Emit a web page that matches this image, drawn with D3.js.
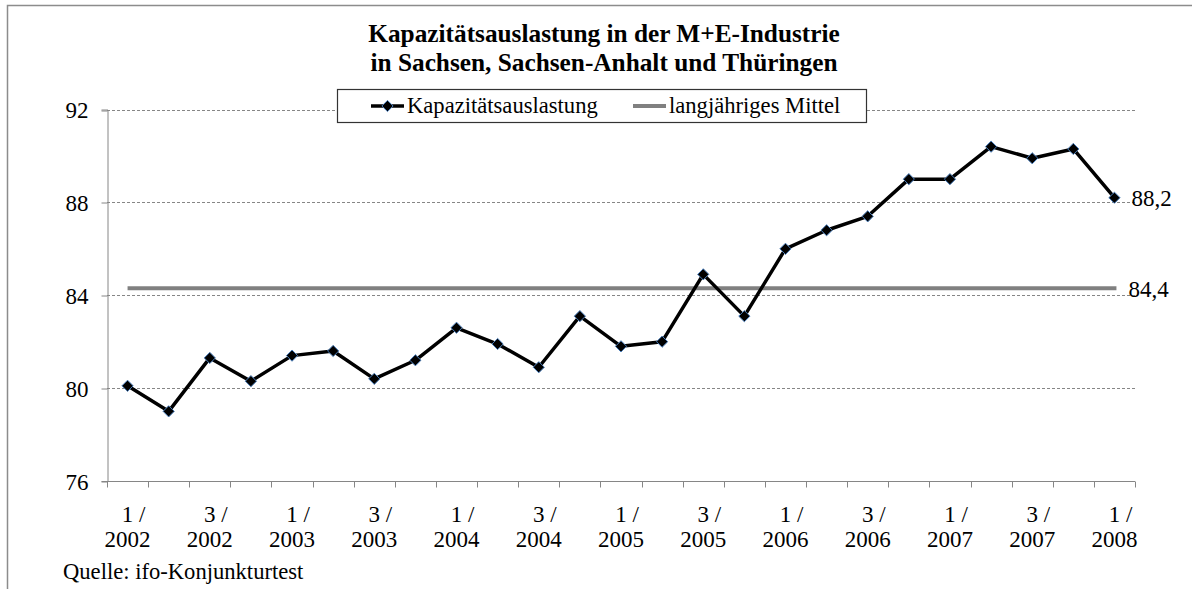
<!DOCTYPE html>
<html>
<head>
<meta charset="utf-8">
<script src="https://cdn.jsdelivr.net/npm/d3@7"></script>
<style>
    body { margin: 0; background: #fff; }
    svg { display: block; font-family: 'Liberation Serif', 'Times New Roman', serif; }
</style>
</head>
<body>
<script>
// quarters shown on the x axis (quarter / year)
const periods = [
    '1/2002', '2/2002', '3/2002', '4/2002',
    '1/2003', '2/2003', '3/2003', '4/2003',
    '1/2004', '2/2004', '3/2004', '4/2004',
    '1/2005', '2/2005', '3/2005', '4/2005',
    '1/2006', '2/2006', '3/2006', '4/2006',
    '1/2007', '2/2007', '3/2007', '4/2007',
    '1/2008',
]
const auslastung = [
    80.1, 79.0, 81.3, 80.3,
    81.4, 81.6, 80.4, 81.2,
    82.6, 81.9, 80.9, 83.1,
    81.8, 82.0, 84.9, 83.1,
    86.0, 86.8, 87.4, 89.0,
    89.0, 90.4, 89.9, 90.3,
    88.2,
]
const mittel = 84.3
const mittelLabel = '84,4'
const yTicks = [76, 80, 84, 88, 92]
const titleLines = [
    'Kapazitätsauslastung in der M+E-Industrie',
    'in Sachsen, Sachsen-Anhalt und Thüringen',
]
const seriesNames = ['Kapazitätsauslastung', 'langjähriges Mittel']
const source = 'Quelle: ifo-Konjunkturtest'

const width = 1192
const height = 589
const margin = { top: 109.5, right: 57, bottom: 108, left: 107 }
const axisColor = '#868686'
const fontSize = 23

const svg = d3.select('body').append('svg')
    .attr('width', width)
    .attr('height', height)
    .attr('viewBox', [0, 0, width, height])

// outer chart frame (only top and left edges fall inside the picture)
svg.append('rect')
    .attr('x', 7.5)
    .attr('y', 5.5)
    .attr('width', width + 20)
    .attr('height', height + 20)
    .attr('fill', 'none')
    .attr('stroke', '#8c8c8c')
    .attr('stroke-width', 1.5)

const x = d3.scaleBand()
    .domain(periods)
    .range([margin.left, width - margin.right])

const y = d3.scaleLinear()
    .domain([76, 92])
    .range([height - margin.bottom, margin.top])

const cx = d => x(d) + x.bandwidth() / 2

// horizontal gridlines
svg.append('g')
    .attr('stroke', axisColor)
    .attr('stroke-dasharray', '3,2')
    .attr('stroke-width', 1)
    .selectAll('line')
    .data(yTicks.filter(t => t > 76))
    .join('line')
        .attr('x1', margin.left)
        .attr('x2', width - margin.right)
        .attr('y1', d => Math.round(y(d)) + 0.5)
        .attr('y2', d => Math.round(y(d)) + 0.5)

// y axis
const yAxis = svg.append('g')
    .attr('transform', `translate(${margin.left + 0.5},0)`)
    .call(d3.axisLeft(y).tickValues(yTicks).tickSize(6).tickPadding(13))
yAxis.select('.domain').attr('stroke', axisColor)
yAxis.selectAll('.tick line').attr('stroke', axisColor)
    .attr('transform', (d) => `translate(0,${Math.round(y(d)) + 0.5 - y(d)})`)
yAxis.selectAll('.tick text')
    .attr('font-family', 'Liberation Serif')
    .attr('font-size', fontSize)
    .attr('fill', '#000')
    .attr('dy', '0.36em')

// x axis: ticks on category boundaries
const xAxisY = Math.round(y(76)) + 0.5
const xAxis = svg.append('g')
xAxis.append('line')
    .attr('x1', margin.left)
    .attr('x2', width - margin.right)
    .attr('y1', xAxisY)
    .attr('y2', xAxisY)
    .attr('stroke', axisColor)
xAxis.selectAll('line.tick')
    .data(periods.concat(['end']))
    .join('line')
        .attr('class', 'tick')
        .attr('x1', (d, i) => Math.round(margin.left + i * x.step()) + 0.5)
        .attr('x2', (d, i) => Math.round(margin.left + i * x.step()) + 0.5)
        .attr('y1', xAxisY)
        .attr('y2', xAxisY + 6)
        .attr('stroke', axisColor)

const xLabel = xAxis.selectAll('text')
    .data(periods.filter((d, i) => i % 2 === 0))
    .join('text')
        .attr('font-size', fontSize)
        .attr('text-anchor', 'middle')
        .attr('transform', d => `translate(${cx(d)},0)`)
xLabel.append('tspan')
    .attr('x', 0)
    .attr('dx', 6)
    .attr('y', 522)
    .text(d => d.split('/')[0] + ' /')
xLabel.append('tspan')
    .attr('x', 0)
    .attr('y', 547)
    .text(d => d.split('/')[1])

// long-term mean
svg.append('line')
    .attr('x1', cx(periods[0]))
    .attr('x2', cx(periods[periods.length - 1]) + 2)
    .attr('y1', y(mittel))
    .attr('y2', y(mittel))
    .attr('stroke', '#808080')
    .attr('stroke-width', 4)

// series line
const line = d3.line()
    .x((d, i) => cx(periods[i]))
    .y(d => y(d))

svg.append('path')
    .datum(auslastung)
    .attr('d', line)
    .attr('fill', 'none')
    .attr('stroke', '#000')
    .attr('stroke-width', 3.5)
    .attr('stroke-linejoin', 'round')

const diamond = d3.symbol().type(d3.symbolDiamond2).size(80)

svg.append('g')
    .selectAll('path')
    .data(auslastung)
    .join('path')
        .attr('d', diamond)
        .attr('transform', (d, i) => `translate(${cx(periods[i])},${y(d)})`)
        .attr('fill', '#000')
        .attr('stroke', '#4a7ebb')
        .attr('stroke-width', 1)

// end labels
const last = auslastung[auslastung.length - 1]
svg.append('text')
    .attr('x', cx(periods[periods.length - 1]) + 17)
    .attr('y', y(last))
    .attr('dy', '0.36em')
    .attr('font-size', fontSize)
    .text(d3.format('.1f')(last).replace('.', ','))
svg.append('text')
    .attr('x', cx(periods[periods.length - 1]) + 14)
    .attr('y', y(mittel))
    .attr('dy', '0.36em')
    .attr('font-size', fontSize)
    .text(mittelLabel)

// title
svg.append('text')
    .attr('text-anchor', 'middle')
    .attr('font-size', 25.3)
    .attr('font-weight', 'bold')
    .selectAll('tspan')
    .data(titleLines)
    .join('tspan')
        .attr('x', 604)
        .attr('y', (d, i) => 42 + i * 29)
        .text(d => d)

// legend
const legend = svg.append('g')
legend.append('rect')
    .attr('x', 337.5)
    .attr('y', 89.5)
    .attr('width', 529)
    .attr('height', 33)
    .attr('fill', '#fff')
    .attr('stroke', '#333')
    .attr('stroke-width', 1.2)
legend.append('line')
    .attr('x1', 371).attr('x2', 404)
    .attr('y1', 106).attr('y2', 106)
    .attr('stroke', '#000')
    .attr('stroke-width', 3.5)
legend.append('path')
    .attr('d', diamond)
    .attr('transform', 'translate(387.5,106)')
    .attr('fill', '#000')
    .attr('stroke', '#4a7ebb')
legend.append('line')
    .attr('x1', 633).attr('x2', 666)
    .attr('y1', 106).attr('y2', 106)
    .attr('stroke', '#808080')
    .attr('stroke-width', 4)
legend.selectAll('text')
    .data(seriesNames)
    .join('text')
        .attr('x', (d, i) => i === 0 ? 407 : 669)
        .attr('y', 113)
        .attr('font-size', 22.6)
        .text(d => d)

// source note
svg.append('text')
    .attr('x', 63)
    .attr('y', 579)
    .attr('font-size', 22.6)
    .text(source)
</script>
</body>
</html>
